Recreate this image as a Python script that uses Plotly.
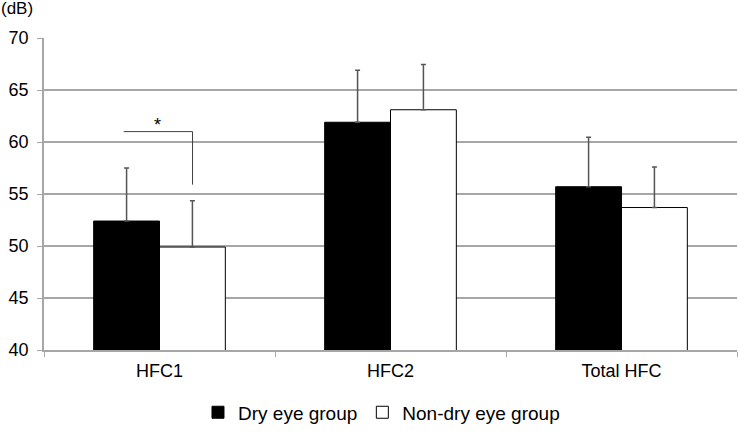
import plotly.graph_objects as go

categories = ["HFC1", "HFC2", "Total HFC"]
dry_mean = [52.4, 61.9, 55.7]
dry_sd = [5.1, 5.0, 4.75]
nondry_mean = [49.9, 63.1, 53.7]
nondry_sd = [4.45, 4.35, 3.9]
y_ticks = [40, 45, 50, 55, 60, 65, 70]

font = "Liberation Sans, Arial, sans-serif"
err_color = "#555555"

fig = go.Figure()
fig.add_trace(go.Bar(
    x=categories, y=dry_mean, name="Dry eye group",
    marker=dict(color="black", line=dict(color="black", width=1)),
    error_y=dict(type="data", array=dry_sd, arrayminus=[0, 0, 0], symmetric=False,
                 color=err_color, thickness=1.5, width=2.5),
))
fig.add_trace(go.Bar(
    x=categories, y=nondry_mean, name="Non-dry eye group",
    marker=dict(color="white", line=dict(color="black", width=1)),
    error_y=dict(type="data", array=nondry_sd, arrayminus=[0, 0, 0], symmetric=False,
                 color=err_color, thickness=1.5, width=2.5),
))

# significance bracket between the two HFC1 bars
fig.add_shape(type="line", xref="x", yref="y", x0=-0.155, x1=0.143, y0=61.0, y1=61.0,
              line=dict(color="#404040", width=1))
fig.add_shape(type="line", xref="x", yref="y", x0=0.143, x1=0.143, y0=61.0, y1=55.9,
              line=dict(color="#404040", width=1))
fig.add_annotation(x=-0.01, y=61.0, xref="x", yref="y", text="*", showarrow=False,
                   yanchor="bottom", yshift=-5, font=dict(size=18, color="black", family=font))

fig.add_annotation(x=0, y=1, xref="paper", yref="paper", xanchor="left", yanchor="middle",
                   text="(dB)", showarrow=False, font=dict(size=17, color="black", family=font),
                   xshift=-45, yshift=30)

fig.update_layout(
    width=738, height=435,
    margin=dict(l=44, r=1, t=38, b=85, autoexpand=False),
    paper_bgcolor="white", plot_bgcolor="white",
    barmode="group", bargap=0.43, bargroupgap=0,
    font=dict(family=font, size=18, color="black"),
    showlegend=True,
    legend=dict(orientation="h", x=0.487, xanchor="center", y=-0.2, yanchor="middle",
                font=dict(size=19), itemwidth=30),
    xaxis=dict(showline=True, linecolor="#a6a6a6", linewidth=1.5, ticks="outside",
               tickson="boundaries", ticklen=5, tickcolor="#a6a6a6", showgrid=False,
               tickfont=dict(size=18), automargin=False, ticklabelstandoff=4),
    yaxis=dict(range=[40, 70], tickvals=y_ticks, showline=True, linecolor="#a6a6a6",
               linewidth=1.5, ticks="outside", ticklen=5, tickcolor="#a6a6a6",
               showgrid=True, gridcolor="#a6a6a6", gridwidth=1.5, zeroline=False,
               tickfont=dict(size=18), automargin=False, ticklabelstandoff=5),
)

fig.write_html("out.html", config={"displayModeBar": False},
               post_script="document.body.style.margin='0';")
